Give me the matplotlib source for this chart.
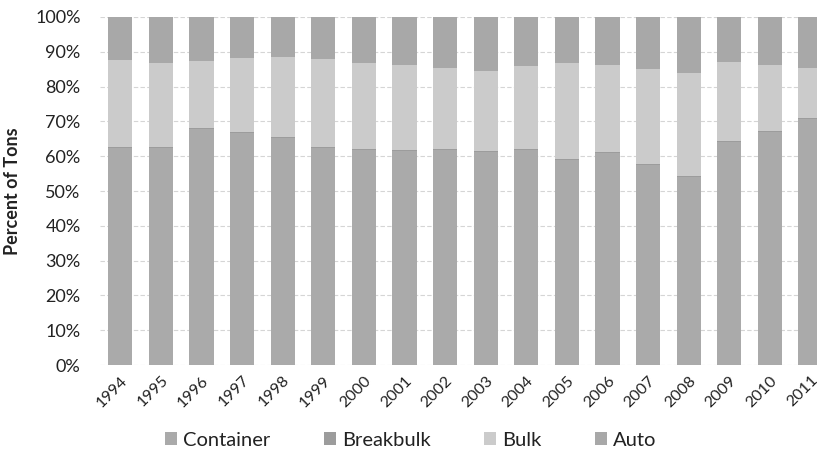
import numpy as np
import matplotlib.pyplot as plt
from matplotlib.ticker import PercentFormatter

years = [str(y) for y in range(1994, 2012)]
container = [62.4, 62.4, 67.8, 66.7, 65.2, 62.4, 61.8, 61.5, 61.8, 61.2,
             61.8, 58.9, 60.9, 57.5, 54.0, 64.1, 67.0, 70.8]
breakbulk = [0.3] * 18
auto_top = [87.6, 86.8, 87.4, 88.2, 88.5, 87.9, 86.8, 86.2, 85.3, 84.4,
            85.9, 86.8, 86.2, 85.0, 83.9, 87.0, 86.2, 85.3]
bulk = [a - c - b for a, c, b in zip(auto_top, container, breakbulk)]
auto = [100 - a for a in auto_top]

colors = {'Container': '#aaaaaa', 'Breakbulk': '#9c9c9c',
          'Bulk': '#cbcbcb', 'Auto': '#a8a8a8'}

plt.rcParams['font.family'] = ['Lato', 'DejaVu Sans']

fig = plt.figure(figsize=(8.17, 4.57), dpi=100)
ax = fig.add_axes([100 / 817, 92 / 457, 717 / 817, 348 / 457])

x = np.arange(len(years))
w = 0.6
bottom = np.zeros(len(years))
for name, vals in [('Container', container), ('Breakbulk', breakbulk),
                   ('Bulk', bulk), ('Auto', auto)]:
    ax.bar(x, vals, w, bottom=bottom, color=colors[name], label=name, zorder=3)
    bottom += np.array(vals)

ax.set_ylim(0, 100)
ax.set_xlim(-0.5, 17.16)
ax.set_yticks(np.arange(0, 101, 10))
ax.yaxis.set_major_formatter(PercentFormatter(decimals=0))
ax.set_xticks(x)
ax.set_xticklabels(years, rotation=45, ha='right', rotation_mode='anchor')
ax.tick_params(axis='both', length=0, colors='#222222')
ax.tick_params(axis='y', labelsize=13, pad=14)
ax.tick_params(axis='x', pad=6, labelsize=11.5)
ax.grid(axis='y', color='#d5d5d5', linewidth=0.8, linestyle=(0, (4, 2)), zorder=0)
for s in ax.spines.values():
    s.set_visible(False)
ax.set_ylabel('Percent of Tons', fontsize=13, fontweight='bold', labelpad=10,
              color='#222222')

fig.legend(loc='center', bbox_to_anchor=(411 / 817, 17 / 457), ncol=4,
           frameon=False, fontsize=14.5, handlelength=0.6, handleheight=0.6,
           columnspacing=2.65, handletextpad=0.3, labelcolor='#222222')

fig.savefig('out.png', dpi=100)
